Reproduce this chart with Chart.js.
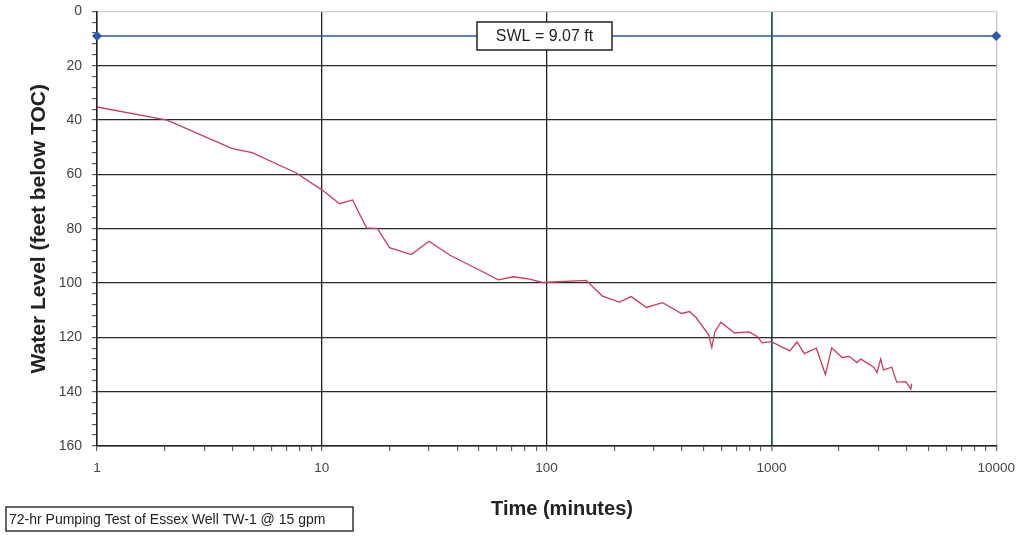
<!DOCTYPE html>
<html>
<head>
<meta charset="utf-8">
<script src="https://cdn.jsdelivr.net/npm/chart.js@4.4.1/dist/chart.umd.min.js"></script>
<style>
  html, body { margin: 0; padding: 0; background: #ffffff; }
  #wrap { position: relative; width: 1024px; height: 546px; }
</style>
</head>
<body>
<div id="wrap"><canvas id="c" width="1024" height="546"></canvas></div>
<script>
// ---- Data ----
const timeMinutes = [1, 2.05, 4.0, 4.9, 7.7, 10, 12, 13.7, 15.8, 17.7, 20, 25, 30, 37, 47, 61, 71, 84, 96, 150,
  177, 211, 238, 278, 328, 398, 432, 462, 525, 543, 560, 596, 685, 795, 868, 909, 1000, 1206, 1300, 1400,
  1585, 1738, 1855, 2060, 2217, 2400, 2500, 2850, 2950, 3060, 3150, 3430, 3610, 3960, 4170, 4210];
const waterLevel = [35.2, 40, 50.5, 52, 59.5, 65.7, 70.8, 69.4, 79.7, 80, 87, 89.5, 84.6, 89.7, 94, 98.8, 97.7, 98.6, 99.8, 99,
  104.8, 107, 105, 109, 107.2, 111.2, 110.5, 112.7, 119, 123.7, 118, 114.4, 118.4, 118, 119.8, 122, 121.6, 125, 121.7, 126,
  124, 133.7, 123.8, 127.4, 127, 129.3, 128, 131, 133, 128, 132, 131, 136.5, 136.3, 139, 137];
const swlTimes = [1, 10000];
const swlLevels = [9.07, 9.07];
const xMajorTicks = [1, 10, 100, 1000, 10000];
const xMinorMultipliers = [2, 3, 4, 5, 6, 7, 8, 9];
const yMajorTicks = [0, 20, 40, 60, 80, 100, 120, 140, 160];
const yMinorStep = 4;
const swlLabel = 'SWL = 9.07 ft';
const captionText = '72-hr Pumping Test of Essex Well TW-1 @ 15 gpm';
const xTitle = 'Time (minutes)';
const yTitle = 'Water Level (feet below TOC)';

// tick lists built from the arrays above
const xAllTicks = [];
xMajorTicks.forEach((d, i) => {
  xAllTicks.push(d);
  if (i < xMajorTicks.length - 1) xMinorMultipliers.forEach(m => xAllTicks.push(d * m));
});
const yAllTicks = [];
for (let v = yMajorTicks[0]; v <= yMajorTicks[yMajorTicks.length - 1]; v += yMinorStep) yAllTicks.push(v);

const FONT = "'Liberation Sans', Arial, sans-serif";

const annotations = {
  id: 'annotations',
  afterDraw(chart) {
    const ctx = chart.ctx;
    ctx.save();
    // SWL label box
    ctx.font = '16px ' + FONT;
    const bx = 477, by = 22, bw = 135, bh = 28;
    ctx.fillStyle = '#ffffff';
    ctx.fillRect(bx, by, bw, bh);
    ctx.strokeStyle = '#222';
    ctx.lineWidth = 1.5;
    ctx.strokeRect(bx, by, bw, bh);
    ctx.fillStyle = '#222';
    ctx.textAlign = 'center';
    ctx.textBaseline = 'middle';
    ctx.fillText(swlLabel, bx + bw / 2, by + bh / 2 + 1);
    // caption box
    ctx.font = '14px ' + FONT;
    const cx = 6, cy = 507, cw = 347, ch = 24;
    ctx.fillStyle = '#ffffff';
    ctx.fillRect(cx, cy, cw, ch);
    ctx.strokeStyle = '#333';
    ctx.lineWidth = 1.5;
    ctx.strokeRect(cx, cy, cw, ch);
    ctx.fillStyle = '#222';
    ctx.textAlign = 'left';
    ctx.fillText(captionText, cx + 3, cy + ch / 2 + 1);
    // x title
    ctx.font = 'bold 20px ' + FONT;
    ctx.textAlign = 'center';
    ctx.fillStyle = '#222';
    ctx.fillText(xTitle, 562, 509);
    ctx.restore();
  }
};

new Chart(document.getElementById('c'), {
  type: 'line',
  data: {
    datasets: [
      {
        label: 'SWL',
        data: swlTimes.map((t, i) => ({ x: t, y: swlLevels[i] })),
        borderColor: '#2a5aa8',
        backgroundColor: '#2a5aa8',
        borderWidth: 1.5,
        pointStyle: 'rectRot',
        pointRadius: 4,
        pointBackgroundColor: '#2a5aa8',
        pointBorderColor: '#2a5aa8',
        clip: false
      },
      {
        label: 'Water level',
        data: timeMinutes.map((t, i) => ({ x: t, y: waterLevel[i] })),
        borderColor: '#cc3a5c',
        borderWidth: 1.3,
        pointRadius: 0,
        tension: 0,
        fill: false
      }
    ]
  },
  options: {
    responsive: false,
    animation: false,
    layout: { padding: { left: 0, right: 27, top: 0, bottom: 0 } },
    plugins: { legend: { display: false }, tooltip: { enabled: false } },
    scales: {
      x: {
        type: 'logarithmic',
        min: 1,
        max: 10000,
        afterBuildTicks: s => { s.ticks = xAllTicks.map(v => ({ value: v })); },
        afterFit: s => { s.height = 100; },
        ticks: {
          autoSkip: false,
          maxRotation: 0,
          padding: 9,
          color: '#444',
          font: { family: FONT, size: 13.5 },
          callback: v => (xMajorTicks.includes(v) ? String(v) : '')
        },
        grid: {
          color: c => {
            const v = c.tick && c.tick.value;
            if (v === 1000) return '#1d5a50';
            if (v === 10000) return '#c8c8c8';
            return xMajorTicks.includes(v) ? '#222' : 'rgba(0,0,0,0)';
          },
          lineWidth: c => (c.tick && c.tick.value === 1000 ? 1.8 : 1.3),
          tickColor: '#444',
          tickLength: 5,
          tickWidth: 1
        },
        border: { display: true, color: '#222', width: 1.5 },
        title: { display: false }
      },
      y: {
        reverse: true,
        min: 0,
        max: 160,
        afterBuildTicks: s => { s.ticks = yAllTicks.map(v => ({ value: v })); },
        afterFit: s => { s.width = 97; },
        ticks: {
          autoSkip: false,
          padding: 3,
          color: '#444',
          font: { family: FONT, size: 14 },
          callback: v => (yMajorTicks.includes(v) ? String(v) + '\u2002' : '')
        },
        grid: {
          color: c => {
            const v = c.tick && c.tick.value;
            if (v === 0) return '#cfcfcf';
            return yMajorTicks.includes(v) ? '#2a2a2a' : 'rgba(0,0,0,0)';
          },
          lineWidth: 1.3,
          tickColor: '#444',
          tickLength: 5,
          tickWidth: 1
        },
        border: { display: true, color: '#222', width: 1.5 },
        title: {
          display: true,
          text: yTitle,
          color: '#222',
          font: { family: FONT, size: 21, weight: 'bold' },
          padding: { top: 27, bottom: 0 }
        }
      }
    }
  },
  plugins: [annotations]
});
</script>
</body>
</html>
